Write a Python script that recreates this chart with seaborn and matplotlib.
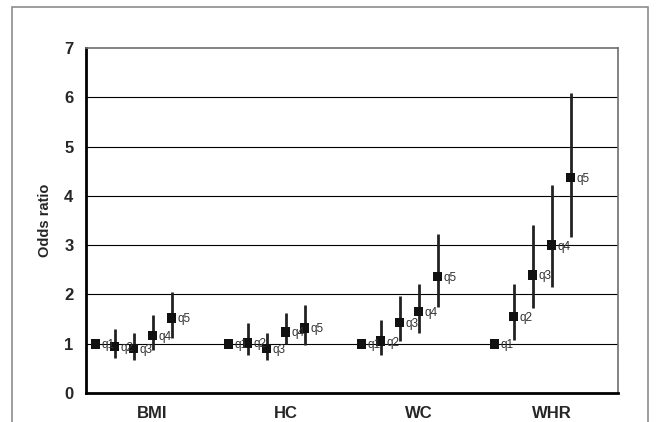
import numpy as np
import pandas as pd
import matplotlib
matplotlib.use('Agg')
from matplotlib import pyplot as plt
import seaborn as sns

# odds ratios by quintile for each measure
measures = ['BMI', 'HC', 'WC', 'WHR']
quintiles = ['q1', 'q2', 'q3', 'q4', 'q5']

bmi_or = [1.00, 0.94, 0.90, 1.17, 1.52]
bmi_lo = [1.00, 0.72, 0.66, 0.88, 1.12]
bmi_hi = [1.00, 1.29, 1.22, 1.58, 2.04]

hc_or = [1.00, 1.02, 0.90, 1.24, 1.32]
hc_lo = [1.00, 0.78, 0.67, 1.00, 0.98]
hc_hi = [1.00, 1.43, 1.22, 1.63, 1.79]

wc_or = [1.00, 1.05, 1.43, 1.65, 2.36]
wc_lo = [1.00, 0.78, 1.05, 1.22, 1.74]
wc_hi = [1.00, 1.48, 1.97, 2.22, 3.22]

whr_or = [1.00, 1.55, 2.40, 3.00, 4.37]
whr_lo = [1.00, 1.07, 1.72, 2.15, 3.16]
whr_hi = [1.00, 2.22, 3.41, 4.22, 6.08]

rows = []
for m, o, lo, hi in zip(measures, [bmi_or, hc_or, wc_or, whr_or],
                        [bmi_lo, hc_lo, wc_lo, whr_lo],
                        [bmi_hi, hc_hi, wc_hi, whr_hi]):
    for k, q in enumerate(quintiles):
        rows.append([m, q, k, o[k], lo[k], hi[k]])
df = pd.DataFrame(rows, columns=['measure', 'quintile', 'k', 'OR', 'lo', 'hi'])
# each category split in 7 slots, quintiles sit in the first 5
df['x'] = df['measure'].map({m: i for i, m in enumerate(measures)}) + (df['k'] + 0.5) / 7 - 0.5

sns.set_style('white')
plt.rcParams['font.family'] = ['Liberation Sans', 'DejaVu Sans']

fig = plt.figure(figsize=(6.57, 4.22), dpi=100)
ax = fig.add_axes([86/657, 1 - 393/422, (618-86)/657, (393-48)/422])

# outer chart frame
fig.patches.append(plt.Rectangle((12/657, -0.05), (648-12)/657, 1 - 7/422 + 0.05,
                                 transform=fig.transFigure, fill=False,
                                 edgecolor='#8c8c8c', linewidth=1.2))

for v in range(1, 7):
    ax.axhline(v, color='black', linewidth=0.8, zorder=1)

ci = df[df['k'] > 0]
ax.vlines(ci['x'], ci['lo'], ci['hi'], color='#222222', linewidth=2, zorder=2)
sns.scatterplot(data=df, x='x', y='OR', marker='s', s=48, color='#111111',
                edgecolor='none', ax=ax, zorder=3, legend=False)
for _, r in df.iterrows():
    ax.annotate(r['quintile'], (r['x'], r['OR']), xytext=(4, -1),
                textcoords='offset points', va='center', ha='left',
                fontsize=8.5, color='#333333', zorder=4)

ax.set_xlim(-0.5, 3.5)
ax.set_ylim(0, 7)
ax.set_yticks(range(0, 8))
ax.set_xticks(range(4))
ax.set_xticklabels(measures, fontsize=12, fontweight='bold')
ax.tick_params(axis='y', length=5, width=1.2, labelsize=12, pad=4)
ax.tick_params(axis='x', length=0, pad=9)
for lab in ax.get_yticklabels():
    lab.set_fontweight('bold')
ax.set_xlabel('')
ax.set_ylabel('Odds ratio', fontsize=10.5, fontweight='bold', labelpad=9)

for s in ['left', 'bottom']:
    ax.spines[s].set_color('black')
    ax.spines[s].set_linewidth(2)
for s in ['top', 'right']:
    ax.spines[s].set_color('#6e6e6e')
    ax.spines[s].set_linewidth(1.2)

fig.savefig('out.png', dpi=100)
